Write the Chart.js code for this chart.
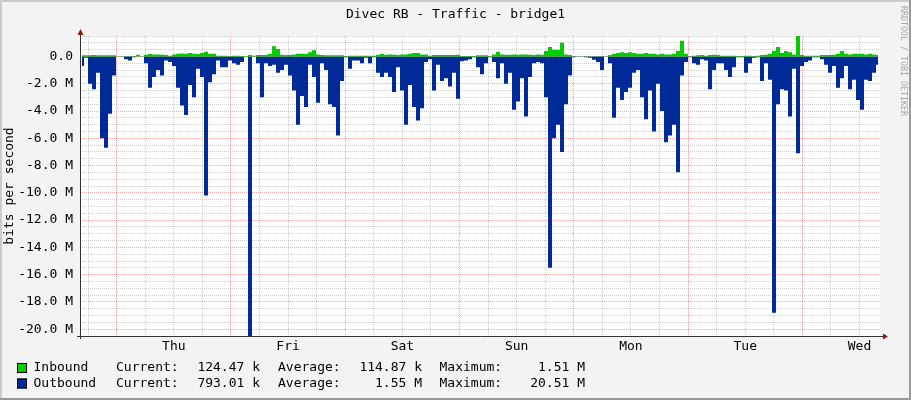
<!DOCTYPE html>
<html>
<head>
<meta charset="utf-8">
<title>Divec RB - Traffic - bridge1</title>
<script src="https://cdn.jsdelivr.net/npm/chart.js@4.4.1/dist/chart.umd.min.js"></script>
<style>
  html, body { margin: 0; padding: 0; background: #f3f3f3; }
  #wrap { width: 911px; height: 400px; }
</style>
</head>
<body>
<div id="wrap"><canvas id="grafico" width="911" height="400"></canvas></div>
<script>
// Valores, em Mbit/s, um valor a cada ~50 min (7 dias)
const dias = ['Thu', 'Fri', 'Sat', 'Sun', 'Mon', 'Tue', 'Wed'];

const inbound = [
  0.08, 0.08, 0.08, 0.1, 0.08, 0.08, 0.08, 0.08, 0.08, 0.02,
  0.02, 0.02, 0.02, 0.02, 0.12, 0.02, 0.12, 0.18, 0.15, 0.15,
  0.12, 0.1, 0.05, 0.15, 0.2, 0.22, 0.2, 0.25, 0.2, 0.18,
  0.25, 0.35, 0.2, 0.2, 0.05, 0.05, 0.05, 0.03, 0.05, 0.05,
  0.03, 0.03, 0.1, 0.05, 0.1, 0.1, 0.1, 0.2, 0.75, 0.55,
  0.12, 0.1, 0.1, 0.15, 0.2, 0.2, 0.2, 0.3, 0.45, 0.15,
  0.1, 0.08, 0.08, 0.08, 0.08, 0.08, 0.02, 0.05, 0.05, 0.05,
  0.05, 0.05, 0.05, 0.05, 0.12, 0.2, 0.12, 0.15, 0.12, 0.1,
  0.15, 0.15, 0.2, 0.25, 0.25, 0.15, 0.15, 0.05, 0.1, 0.1,
  0.1, 0.1, 0.1, 0.1, 0.12, 0.03, 0.03, 0.03, 0.03, 0.08,
  0.08, 0.08, 0.03, 0.15, 0.35, 0.15, 0.12, 0.12, 0.15, 0.12,
  0.15, 0.15, 0.12, 0.1, 0.15, 0.12, 0.4, 0.7, 0.5, 0.5,
  1.0, 0.15, 0.1, 0.02, 0.02, 0.02, 0.02, 0.02, 0.02, 0.02,
  0.02, 0.02, 0.1, 0.2, 0.25, 0.3, 0.25, 0.3, 0.25, 0.2,
  0.2, 0.25, 0.2, 0.2, 0.15, 0.2, 0.15, 0.15, 0.2, 0.4,
  1.15, 0.2, 0.02, 0.05, 0.08, 0.1, 0.05, 0.1, 0.12, 0.1,
  0.05, 0.05, 0.05, 0.05, 0.03, 0.03, 0.05, 0.05, 0.03, 0.05,
  0.1, 0.12, 0.2, 0.4, 0.7, 0.25, 0.4, 0.3, 0.15, 1.51,
  0.1, 0.05, 0.05, 0.05, 0.05, 0.1, 0.1, 0.1, 0.12, 0.2,
  0.4, 0.2, 0.15, 0.2, 0.2, 0.2, 0.15, 0.2, 0.15, 0.1
];

const outbound = [
  0.7, 0.1, 2.0, 2.4, 1.2, 6.0, 6.7, 4.2, 1.4, 0.02,
  0.02, 0.2, 0.3, 0.05, 0.02, 0.02, 0.5, 2.3, 1.5, 1.0,
  1.4, 0.3, 0.4, 0.7, 2.3, 3.6, 4.3, 2.1, 3.0, 0.9,
  1.5, 10.2, 1.9, 1.3, 0.3, 0.8, 0.8, 0.3, 0.5, 0.6,
  0.4, 0.02, 20.5, 0.02, 0.5, 3.0, 0.5, 0.7, 0.6, 1.2,
  1.0, 0.6, 1.4, 2.5, 5.0, 2.9, 3.7, 0.6, 1.5, 3.4,
  0.5, 1.0, 3.5, 3.7, 5.8, 1.8, 0.05, 0.9, 0.3, 0.3,
  0.5, 0.1, 0.5, 0.05, 1.2, 1.5, 1.2, 1.5, 2.6, 0.8,
  2.5, 5.0, 2.1, 3.7, 4.7, 3.8, 0.4, 0.2, 2.5, 0.6,
  1.8, 1.6, 2.2, 1.2, 3.1, 0.35, 0.3, 0.2, 0.05, 0.8,
  1.3, 0.5, 0.05, 0.4, 1.6, 0.5, 2.0, 1.2, 3.9, 3.3,
  1.6, 4.4, 1.5, 0.5, 0.4, 0.5, 3.0, 15.5, 6.0, 5.0,
  7.0, 3.5, 1.4, 0.05, 0.03, 0.03, 0.05, 0.1, 0.25, 0.4,
  1.0, 0.03, 0.5, 4.5, 2.3, 3.2, 2.6, 2.3, 1.2, 1.0,
  3.0, 4.6, 2.5, 5.5, 2.0, 4.0, 6.3, 5.8, 5.0, 8.5,
  1.4, 0.4, 0.05, 0.5, 0.6, 0.2, 0.3, 2.4, 1.0, 0.5,
  0.5, 1.0, 1.5, 0.8, 0.05, 0.05, 1.2, 0.5, 0.1, 0.05,
  1.8, 0.5, 1.7, 18.8, 3.5, 2.4, 2.5, 4.4, 0.9, 7.1,
  0.7, 0.4, 0.3, 0.05, 0.05, 0.2, 0.6, 1.2, 0.7, 2.3,
  1.6, 0.7, 2.4, 1.7, 3.2, 3.9, 1.7, 1.8, 1.2, 0.6
];

// Legenda (textos como aparecem no gráfico)
const legendNames = ['Inbound', 'Outbound'];
const legendCurrent = ['124.47 k', '793.01 k'];
const legendAverage = ['114.87 k', '1.55 M'];
const legendMaximum = ['1.51 M', '20.51 M'];
const seriesColors = ['#00cc00', '#002a97'];

const FONTE = '"DejaVu Sans Mono", monospace';

// Eixo do tempo em horas a partir de Thu 00:00
const inicio = -7.7;
const passo = 168 / outbound.length;
const horas = outbound.map((_, i) => inicio + passo * (i + 0.5));

const GRID = 'rgba(143, 143, 143, 0.42)';
const MGRID = 'rgba(229, 87, 87, 0.5)';

const moldura = {
  id: 'moldura',
  beforeDraw(chart) {
    const { ctx, chartArea: a, width, height } = chart;
    ctx.save();
    ctx.fillStyle = '#f3f3f3';
    ctx.fillRect(0, 0, width, height);
    ctx.fillStyle = '#ffffff';
    ctx.fillRect(a.left, a.top, a.right - a.left, a.bottom - a.top);
    ctx.restore();
  },
  afterDraw(chart) {
    const { ctx, chartArea: a, width, height } = chart;
    ctx.save();

    // eixos
    ctx.strokeStyle = '#333';
    ctx.lineWidth = 1;
    ctx.beginPath();
    ctx.moveTo(a.left - 3, a.bottom + 0.5);
    ctx.lineTo(a.right + 4, a.bottom + 0.5);
    ctx.moveTo(a.left + 0.5, a.bottom + 3);
    ctx.lineTo(a.left + 0.5, a.top - 3);
    ctx.stroke();

    // setas
    ctx.fillStyle = '#8b1c1c';
    ctx.beginPath();
    ctx.moveTo(a.right + 3, a.bottom - 2.5);
    ctx.lineTo(a.right + 8, a.bottom + 0.5);
    ctx.lineTo(a.right + 3, a.bottom + 3.5);
    ctx.closePath();
    ctx.fill();
    ctx.beginPath();
    ctx.moveTo(a.left - 2.5, a.top - 1);
    ctx.lineTo(a.left + 0.5, a.top - 7);
    ctx.lineTo(a.left + 3.5, a.top - 1);
    ctx.closePath();
    ctx.fill();

    // título
    ctx.fillStyle = '#000';
    ctx.font = '13px ' + FONTE;
    ctx.textAlign = 'center';
    ctx.textBaseline = 'middle';
    ctx.fillText('Divec RB - Traffic - bridge1', width / 2, 14.5);

    // legenda
    legendNames.forEach((nome, r) => {
      const y = 368 + r * 15.5;
      ctx.fillStyle = seriesColors[r];
      ctx.fillRect(17, y - 5, 10, 10);
      ctx.strokeStyle = '#000';
      ctx.strokeRect(17.5, y - 4.5, 9, 9);
      ctx.fillStyle = '#000';
      ctx.textAlign = 'left';
      ctx.fillText(nome, 33.5, y);
      ctx.fillText('Current:', 116, y);
      ctx.fillText('Average:', 278, y);
      ctx.fillText('Maximum:', 439.5, y);
      ctx.textAlign = 'right';
      ctx.fillText(legendCurrent[r], 260, y);
      ctx.fillText(legendAverage[r], 422, y);
      ctx.fillText(legendMaximum[r], 585, y);
    });

    // marca d'água vertical
    ctx.save();
    ctx.translate(903.5, 6);
    ctx.rotate(Math.PI / 2);
    ctx.font = '8.3px ' + FONTE;
    ctx.fillStyle = '#a8a8a8';
    ctx.textAlign = 'left';
    ctx.textBaseline = 'middle';
    ctx.fillText('RRDTOOL / TOBI OETIKER', 0, 0);
    ctx.restore();

    // borda 3D
    ctx.lineWidth = 2;
    ctx.strokeStyle = '#cbcbcb';
    ctx.beginPath();
    ctx.moveTo(1, height); ctx.lineTo(1, 1); ctx.lineTo(width, 1);
    ctx.stroke();
    ctx.strokeStyle = '#999999';
    ctx.beginPath();
    ctx.moveTo(width - 1, 0); ctx.lineTo(width - 1, height - 1); ctx.lineTo(0, height - 1);
    ctx.stroke();

    ctx.restore();
  }
};

const ctx = document.getElementById('grafico').getContext('2d');
new Chart(ctx, {
  type: 'line',
  data: {
    datasets: [
      {
        label: legendNames[0],
        data: inbound.map((v, i) => ({ x: horas[i], y: v })),
        backgroundColor: seriesColors[0],
        borderWidth: 0,
        fill: 'origin',
        stepped: 'middle',
        pointRadius: 0
      },
      {
        label: legendNames[1],
        data: outbound.map((v, i) => ({ x: horas[i], y: -v })),
        backgroundColor: seriesColors[1],
        borderWidth: 0,
        fill: 'origin',
        stepped: 'middle',
        pointRadius: 0
      }
    ]
  },
  options: {
    responsive: false,
    animation: false,
    layout: { autoPadding: false, padding: { top: 36, right: 31, left: 0, bottom: 0 } },
    plugins: {
      legend: { display: false },
      tooltip: { enabled: false }
    },
    scales: {
      x: {
        type: 'linear',
        min: inicio,
        max: inicio + 168,
        afterFit: (s) => { s.height = 64; },
        afterBuildTicks: (s) => {
          const t = [];
          for (let h = -6; h <= 156; h += 6) t.push({ value: h });
          s.ticks = t;
        },
        grid: {
          drawTicks: false,
          color: (c) => (((c.tick.value % 24) + 24) % 24 === 0 ? MGRID : GRID)
        },
        border: { display: false, dash: [1, 1] },
        ticks: {
          autoSkip: false,
          maxRotation: 0,
          padding: 3,
          color: '#000',
          font: { family: FONTE, size: 13 },
          callback: (v) => {
            const r = ((v % 24) + 24) % 24;
            return r === 12 ? dias[Math.floor(v / 24)] : '';
          }
        }
      },
      y: {
        min: -20.5,
        max: 1.5,
        afterFit: (s) => { s.width = 80; },
        afterBuildTicks: (s) => {
          const t = [];
          for (let k = -41; k <= 3; k++) t.push({ value: k / 2 });
          s.ticks = t;
        },
        grid: {
          drawTicks: false,
          color: (c) => (Math.abs(c.tick.value % 2) < 1e-9 ? MGRID : GRID)
        },
        border: { display: false, dash: [1, 1] },
        title: {
          display: true,
          text: 'bits per second',
          color: '#000',
          font: { family: FONTE, size: 13 },
          padding: { top: 2, bottom: 0 }
        },
        ticks: {
          autoSkip: false,
          padding: 7,
          color: '#000',
          font: { family: FONTE, size: 13 },
          callback: (v) => {
            if (Math.abs(v % 2) > 1e-9) return '';
            return v === 0 ? '0.0' : v.toFixed(1) + ' M';
          }
        }
      }
    }
  },
  plugins: [moldura]
});
</script>
</body>
</html>
